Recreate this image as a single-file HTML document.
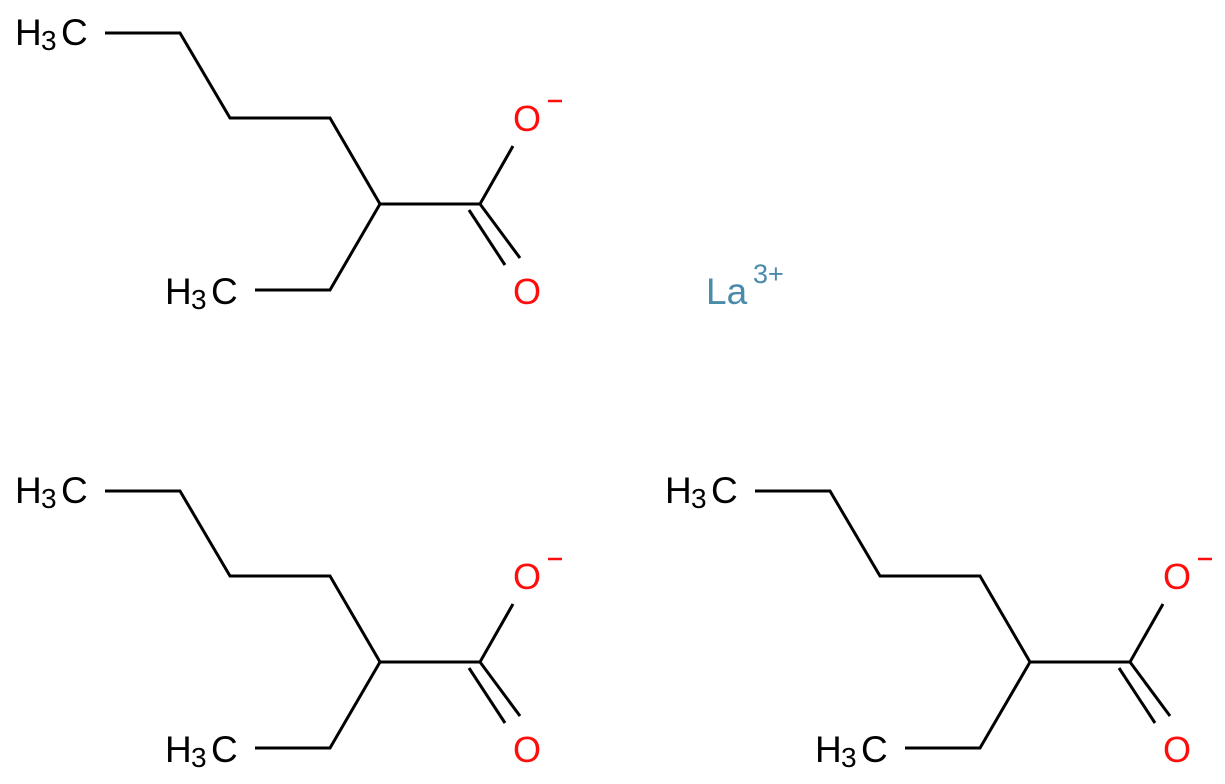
<!DOCTYPE html>
<html><head><style>html,body{margin:0;padding:0;background:#fff;}svg{display:block}</style></head>
<body>
<svg width="1225" height="784" viewBox="0 0 1225 784" xmlns="http://www.w3.org/2000/svg" font-family="Liberation Sans, sans-serif">
<defs>
<g id="m">
<g stroke="#000" stroke-width="3" fill="none" stroke-linejoin="miter">
<polyline points="105,33 180,33 230,118 330,118 380,204 480,204 513,146"/>
<polyline points="380,204 330,290 255,290"/>
<line x1="480" y1="204" x2="520" y2="258"/>
<line x1="469" y1="210" x2="505" y2="265"/>
</g>
<text x="15" y="45" font-size="37" fill="#000">H</text><text x="41" y="50" font-size="28" fill="#000">3</text><text x="61" y="45" font-size="37" fill="#000">C</text>
<text x="165" y="304" font-size="37" fill="#000">H</text><text x="191" y="309" font-size="28" fill="#000">3</text><text x="211" y="304" font-size="37" fill="#000">C</text>
<text x="513" y="131" font-size="36" fill="#ff0d0d">O</text>
<line x1="548" y1="101" x2="562" y2="101" stroke="#ff0d0d" stroke-width="2.5"/>
<text x="513" y="304" font-size="36" fill="#ff0d0d">O</text>
</g>
</defs>
<use href="#m"/>
<use href="#m" transform="translate(0,458)"/>
<use href="#m" transform="translate(650,458)"/>
<text x="706" y="304" font-size="37" fill="#4a8aaa">La</text>
<text x="753" y="283" font-size="27" fill="#4a8aaa">3+</text>
</svg>
</body></html>
